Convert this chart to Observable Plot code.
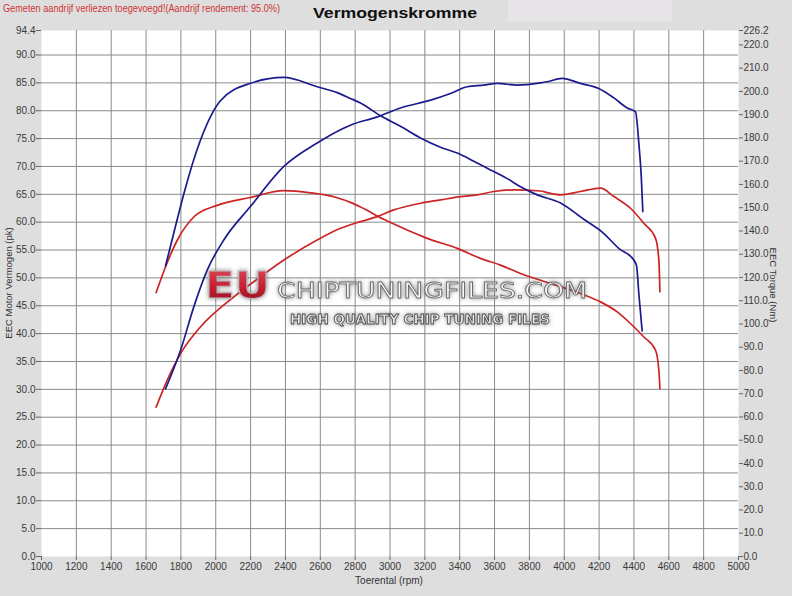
<!DOCTYPE html>
<html><head><meta charset="utf-8">
<script src="https://cdn.jsdelivr.net/npm/d3@7"></script>
<script src="https://cdn.jsdelivr.net/npm/@observablehq/plot@0.6"></script>
<style>
html,body{margin:0;padding:0;background:#dedede;}
#wrap{position:relative;width:792px;height:596px;background:#dedede;overflow:hidden;font-family:"Liberation Sans",Arial,sans-serif;}
#wrap svg{position:absolute;left:0;top:0;}
</style></head><body><div id="wrap"></div>
<script>
// ---- texts ----
const titleText = "Vermogenskromme";
const subtitleText = "Gemeten aandrijf verliezen toegevoegd!(Aandrijf rendement: 95.0%)";
const xLabel = "Toerental (rpm)";
const yLeftLabel = "EEC Motor Vermogen (pk)";
const yRightLabel = "EEC Torque (Nm)";
const logoBig = "EU";
const logoSite = "CHIPTUNINGFILES.COM";
const logoTag = "HIGH QUALITY CHIP TUNING FILES";

// ---- axis ticks ----
const xTicks = d3.range(1000, 5001, 200);
const powerTicks = [...d3.range(0, 91, 5), 94.4];
const torqueTicks = [...d3.range(0, 221, 10), 226.2];
const powerMax = 94.4, torqueMax = 226.2;

// ---- series ----
// tuned (blue) torque, Nm
const tunedTorqueRpm = [1712,1779,1817,1912,2027,2199,2391,2582,2697,2773,2831,2946,3060,3175,3290,3386,3481,3558,3673,3749,3845,3979,4112,4218,4313,4399,4415,4428,4447];
const tunedTorqueNm  = [125,145,156,179,196,203.5,206,202,199.5,197,195,189.5,185,180,176,173.5,170,167,162.5,159,155.5,152,145,139.5,132.5,127.5,125,113,97];
// tuned (blue) power, pk
const tunedPowerRpm = [1712,1798,1874,1951,2046,2199,2391,2582,2716,2773,2927,3060,3233,3347,3443,3538,3615,3730,3864,3902,3988,4093,4198,4285,4361,4409,4428,4442,4451];
const tunedPowerPk  = [30.1,37.0,44.8,51.4,56.8,62.8,70.0,74.2,76.6,77.4,78.9,80.5,81.9,83.1,84.3,84.6,84.9,84.6,85.0,85.2,85.8,84.9,84.0,82.3,80.5,79.8,74.2,68.2,61.9];
// stock (red) torque, Nm
const stockTorqueRpm = [1658,1712,1779,1874,2008,2199,2391,2544,2697,2773,2831,2964,3099,3214,3386,3519,3634,3749,3864,3921,4093,4208,4304,4380,4457,4524,4543,4549];
const stockTorqueNm  = [113.5,124.6,136,146,151,154.4,157.3,156.4,154.3,152.3,150.3,145,140.4,136.8,132.5,128.2,125.3,121.7,118.8,117.4,113.1,109.5,105.2,100.2,94.4,88.7,80.1,72.2];
// stock (red) power, pk
const stockPowerRpm = [1658,1721,1798,1912,2104,2257,2391,2582,2716,2831,2927,3022,3175,3290,3405,3500,3596,3711,3864,3902,3979,4093,4208,4285,4380,4457,4524,4543,4549];
const stockPowerPk  = [26.8,31.6,36.4,41.2,46.6,50.2,53.2,56.8,58.9,60.1,61.0,62.2,63.4,64.0,64.6,64.9,65.5,65.8,65.6,65.3,64.9,65.5,66.1,64.6,62.5,59.8,57.1,53.2,47.5];

const blue = "#1b1b8e", red = "#cc2424";
const k = powerMax / torqueMax; // torque -> shared y scale
const rows = (rpm, vals, f) => rpm.map((r, i) => ({rpm: r, v: f(vals[i])}));
const id = v => v, tq = v => v * k;

const chart = Plot.plot({
  width: 792, height: 596,
  marginLeft: 41, marginRight: 54, marginTop: 30, marginBottom: 40,
  style: {background: "transparent", fontFamily: "'Liberation Sans', Arial, sans-serif", fontSize: "10px", color: "#3a3a3a"},
  x: {domain: [1000, 5000]},
  y: {domain: [0, powerMax]},
  marks: [
    Plot.frame({fill: "white", stroke: "none"}),
    Plot.gridX(xTicks.filter(t => t > 1000 && t < 5000), {stroke: "#8a8a8a", strokeOpacity: 1}),
    Plot.gridY(powerTicks.filter(t => t > 0 && t <= 90), {stroke: "#8a8a8a", strokeOpacity: 1}),
    Plot.axisX(xTicks, {tickSize: 4, tickPadding: 2, label: null, tickFormat: d => String(d), stroke: "#666"}),
    Plot.axisY(powerTicks, {anchor: "left", tickSize: 5, tickPadding: 1, label: null, tickFormat: d => d.toFixed(1), stroke: "#666"}),
    Plot.axisY(torqueTicks.map(tq), {anchor: "right", tickSize: 4, tickPadding: 1, label: null, tickFormat: d => (d / k).toFixed(1), stroke: "#666"}),
    Plot.line(rows(stockPowerRpm, stockPowerPk, id), {x: "rpm", y: "v", stroke: red, strokeWidth: 1.7, curve: "monotone-x"}),
    Plot.line(rows(stockTorqueRpm, stockTorqueNm, tq), {x: "rpm", y: "v", stroke: red, strokeWidth: 1.7, curve: "monotone-x"}),
    Plot.line(rows(tunedPowerRpm, tunedPowerPk, id), {x: "rpm", y: "v", stroke: blue, strokeWidth: 1.7, curve: "monotone-x"}),
    Plot.line(rows(tunedTorqueRpm, tunedTorqueNm, tq), {x: "rpm", y: "v", stroke: blue, strokeWidth: 1.7, curve: "monotone-x"})
  ]
});
const wrap = document.getElementById("wrap");
wrap.appendChild(chart);

// ---- overlay: titles, axis titles, watermark ----
const ov = d3.select(wrap).append("svg").attr("width", 792).attr("height", 596)
  .style("pointer-events", "none").style("font-family", "'Liberation Sans', Arial, sans-serif");
const defs = ov.append("defs");
const f = defs.append("filter").attr("id", "glow").attr("x", "-10%").attr("y", "-30%").attr("width", "120%").attr("height", "160%");
f.append("feGaussianBlur").attr("in", "SourceAlpha").attr("stdDeviation", 2).attr("result", "b");
f.append("feFlood").attr("flood-color", "#555").attr("flood-opacity", 0.7);
f.append("feComposite").attr("in2", "b").attr("operator", "in").attr("result", "s");
const m = f.append("feMerge"); m.append("feMergeNode").attr("in", "s"); m.append("feMergeNode").attr("in", "SourceGraphic");
const g = defs.append("linearGradient").attr("id", "eu").attr("x1", 0).attr("y1", 0).attr("x2", 0).attr("y2", 1);
g.append("stop").attr("offset", "0%").attr("stop-color", "#e0505f");
g.append("stop").attr("offset", "55%").attr("stop-color", "#c41f33");
g.append("stop").attr("offset", "100%").attr("stop-color", "#8e1020");

ov.insert("rect", ":first-child").attr("x", 508).attr("y", 0).attr("width", 164).attr("height", 22).attr("fill", "#e6e4e6");
ov.append("text").attr("x", 3).attr("y", 12).attr("font-size", 10.5).attr("fill", "#d03434")
  .attr("textLength", 277).attr("lengthAdjust", "spacingAndGlyphs").text(subtitleText);
ov.append("text").attr("x", 313).attr("y", 17.5).attr("font-size", 15.5).attr("font-weight", "bold").attr("fill", "#111")
  .attr("textLength", 164).attr("lengthAdjust", "spacingAndGlyphs").text(titleText);
ov.append("text").attr("x", 389).attr("y", 584).attr("font-size", 10).attr("fill", "#333").attr("text-anchor", "middle").text(xLabel);
ov.append("text").attr("transform", "translate(12,283) rotate(-90)").attr("font-size", 9.5).attr("fill", "#333").attr("text-anchor", "middle").text(yLeftLabel);
ov.append("text").attr("transform", "translate(770,285) rotate(90)").attr("font-size", 9.5).attr("fill", "#333").attr("text-anchor", "middle").text(yRightLabel);

const wm = ov.append("g").attr("filter", "url(#glow)");
wm.append("text").attr("x", 205).attr("y", 298).attr("font-size", 38).attr("font-weight", "bold")
  .attr("font-family", "'DejaVu Sans', sans-serif").attr("fill", "url(#eu)").attr("stroke", "#bbb").attr("stroke-width", 1)
  .attr("textLength", 65).attr("lengthAdjust", "spacingAndGlyphs").text(logoBig);
wm.append("text").attr("x", 277).attr("y", 297.5).attr("font-size", 22)
  .attr("font-family", "'DejaVu Sans', sans-serif").attr("fill", "#fafafa").attr("stroke", "#6a6a6a").attr("stroke-width", 0.8)
  .attr("textLength", 310).attr("lengthAdjust", "spacingAndGlyphs").text(logoSite);
wm.append("text").attr("x", 290).attr("y", 323.5).attr("font-size", 14.5).attr("font-weight", "bold")
  .attr("font-family", "'DejaVu Sans', sans-serif").attr("fill", "#e8e8e8").attr("stroke", "#444").attr("stroke-width", 0.8)
  .attr("textLength", 260).attr("lengthAdjust", "spacingAndGlyphs").text(logoTag);
</script></body></html>
